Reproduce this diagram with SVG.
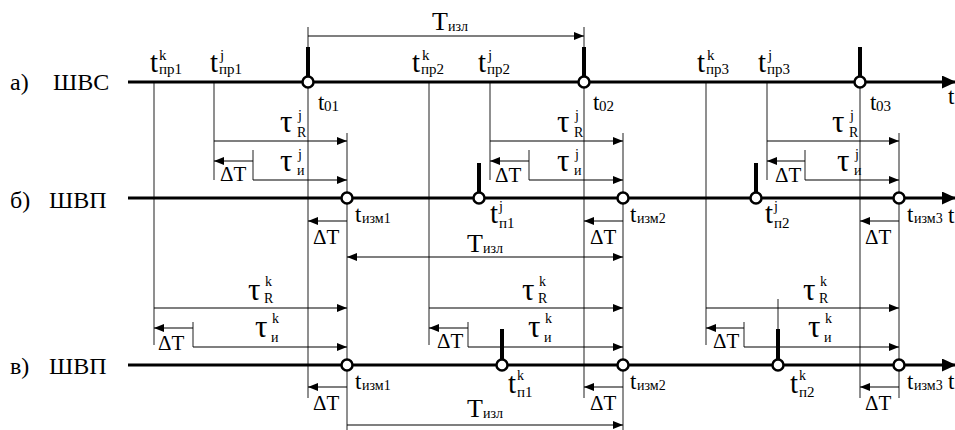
<svg xmlns="http://www.w3.org/2000/svg" width="955" height="430" viewBox="0 0 955 430" font-family="Liberation Serif">
<style>
text{font-family:"Liberation Serif",serif;fill:#000}
.ax{stroke:#000;stroke-width:3;fill:none}
.th{stroke:#333;stroke-width:1.1;fill:none}
.tk{stroke:#000;stroke-width:4;fill:none}
.ar{stroke:#000;stroke-width:1.1;fill:none;marker-end:url(#a)}
.ar2{stroke:#000;stroke-width:1.1;fill:none;marker-end:url(#a);marker-start:url(#b)}
.cir{fill:#fff;stroke:#000;stroke-width:2.5}
.lb{font-size:24px}
.tb{font-size:29px}
.tm{font-size:23px}
.sb{font-size:15px}
.ss{font-size:14px}
.bT{font-size:26px}
.dT{font-size:21px}
.tau{font-size:31px}
</style>
<defs>
<marker id="a" markerUnits="userSpaceOnUse" markerWidth="10" markerHeight="8" refX="10" refY="4" orient="auto" viewBox="0 0 10 8"><path d="M0,0 L10,4 L0,8 z" fill="#000"/></marker>
<marker id="b" markerUnits="userSpaceOnUse" markerWidth="10" markerHeight="8" refX="0" refY="4" orient="auto" viewBox="0 0 10 8"><path d="M10,0 L0,4 L10,8 z" fill="#000"/></marker>
<marker id="A" markerUnits="userSpaceOnUse" markerWidth="14" markerHeight="13" refX="14" refY="6.5" orient="auto" viewBox="0 0 14 13"><path d="M0,0 L14,6.5 L0,13 z" fill="#000"/></marker>
</defs>

<g id="connectors">
<line class="th" x1="154" y1="82" x2="154" y2="345"/>
<line class="th" x1="429" y1="82" x2="429" y2="345"/>
<line class="th" x1="706" y1="82" x2="706" y2="345"/>
<line class="th" x1="214" y1="82" x2="214" y2="180"/>
<line class="th" x1="490" y1="82" x2="490" y2="180"/>
<line class="th" x1="767" y1="82" x2="767" y2="180"/>
<line class="th" x1="308" y1="27" x2="308" y2="398"/>
<line class="th" x1="584" y1="27" x2="584" y2="398"/>
<line class="th" x1="860" y1="82" x2="860" y2="398"/>
<line class="th" x1="347" y1="133" x2="347" y2="430"/>
<line class="th" x1="623" y1="133" x2="623" y2="430"/>
<line class="th" x1="899" y1="133" x2="899" y2="398"/>
<line class="th" x1="778" y1="299" x2="778" y2="330"/>
<line class="ar" x1="308" y1="36" x2="584" y2="36"/>
<line class="ar" x1="214" y1="141" x2="347" y2="141"/>
<line class="th" x1="253" y1="150" x2="253" y2="180"/>
<line class="ar" x1="253" y1="161" x2="214" y2="161"/>
<line class="ar" x1="253" y1="180" x2="347" y2="180"/>
<line class="ar" x1="490" y1="141" x2="623" y2="141"/>
<line class="th" x1="529" y1="150" x2="529" y2="180"/>
<line class="ar" x1="529" y1="161" x2="490" y2="161"/>
<line class="ar" x1="529" y1="180" x2="623" y2="180"/>
<line class="ar" x1="767" y1="141" x2="899" y2="141"/>
<line class="th" x1="805" y1="150" x2="805" y2="180"/>
<line class="ar" x1="805" y1="161" x2="767" y2="161"/>
<line class="ar" x1="805" y1="180" x2="899" y2="180"/>
<line class="ar" x1="347" y1="221" x2="308" y2="221"/>
<line class="ar" x1="623" y1="221" x2="584" y2="221"/>
<line class="ar" x1="899" y1="221" x2="860" y2="221"/>
<line class="ar2" x1="347" y1="257" x2="623" y2="257"/>
<line class="ar" x1="154" y1="308" x2="347" y2="308"/>
<line class="th" x1="193" y1="322" x2="193" y2="347"/>
<line class="ar" x1="193" y1="328" x2="154" y2="328"/>
<line class="ar" x1="193" y1="347" x2="347" y2="347"/>
<line class="ar" x1="429" y1="308" x2="623" y2="308"/>
<line class="th" x1="468" y1="322" x2="468" y2="347"/>
<line class="ar" x1="468" y1="328" x2="429" y2="328"/>
<line class="ar" x1="468" y1="347" x2="623" y2="347"/>
<line class="ar" x1="706" y1="308" x2="899" y2="308"/>
<line class="th" x1="744" y1="322" x2="744" y2="347"/>
<line class="ar" x1="744" y1="328" x2="706" y2="328"/>
<line class="ar" x1="744" y1="347" x2="899" y2="347"/>
<line class="ar" x1="347" y1="387" x2="308" y2="387"/>
<line class="ar" x1="623" y1="387" x2="584" y2="387"/>
<line class="ar" x1="899" y1="387" x2="860" y2="387"/>
<line class="ar" x1="347" y1="425" x2="623" y2="425"/>
<line class="tk" x1="308" y1="47" x2="308" y2="82"/>
<line class="tk" x1="584" y1="47" x2="584" y2="82"/>
<line class="tk" x1="860" y1="47" x2="860" y2="82"/>
<line class="tk" x1="479" y1="163" x2="479" y2="198"/>
<line class="tk" x1="756" y1="163" x2="756" y2="198"/>
<line class="tk" x1="502" y1="329" x2="502" y2="365"/>
<line class="tk" x1="778" y1="329" x2="778" y2="365"/>
</g>

<g id="axis-a">
<line class="ax" x1="128" y1="82" x2="956" y2="82" marker-end="url(#A)"/>
<text class="lb" x="10" y="90">а)</text>
<text class="lb" x="53" y="90">ШВС</text>
<text class="tm" x="948" y="104">t</text>
</g>
<g id="axis-b">
<line class="ax" x1="128" y1="198" x2="956" y2="198" marker-end="url(#A)"/>
<text class="lb" x="10" y="208">б)</text>
<text class="lb" x="49" y="208">ШВП</text>
<text class="tm" x="948" y="223">t</text>
</g>
<g id="axis-c">
<line class="ax" x1="128" y1="365" x2="956" y2="365" marker-end="url(#A)"/>
<text class="lb" x="10" y="374">в)</text>
<text class="lb" x="49" y="374">ШВП</text>
<text class="tm" x="948" y="389">t</text>
</g>

<g id="events">
<circle class="cir" cx="308" cy="82" r="5.5"/>
<circle class="cir" cx="584" cy="82" r="5.5"/>
<circle class="cir" cx="860" cy="82" r="5.5"/>
<circle class="cir" cx="347" cy="198" r="5.5"/>
<circle class="cir" cx="623" cy="198" r="5.5"/>
<circle class="cir" cx="899" cy="198" r="5.5"/>
<circle class="cir" cx="479" cy="198" r="5.5"/>
<circle class="cir" cx="756" cy="198" r="5.5"/>
<circle class="cir" cx="347" cy="365" r="5.5"/>
<circle class="cir" cx="623" cy="365" r="5.5"/>
<circle class="cir" cx="899" cy="365" r="5.5"/>
<circle class="cir" cx="502" cy="365" r="5.5"/>
<circle class="cir" cx="778" cy="365" r="5.5"/>
</g>

<g id="labels-a">
<text class="tb" x="150" y="72">t<tspan class="sb" x="159" y="60">k</tspan><tspan class="sb" x="159" y="74">пр1</tspan></text>
<text class="tb" x="210" y="72">t<tspan class="sb" x="220" y="60">j</tspan><tspan class="sb" x="219" y="74">пр1</tspan></text>
<text class="tb" x="412" y="72">t<tspan class="sb" x="422" y="60">k</tspan><tspan class="sb" x="421" y="74">пр2</tspan></text>
<text class="tb" x="478" y="72">t<tspan class="sb" x="488" y="60">j</tspan><tspan class="sb" x="487" y="74">пр2</tspan></text>
<text class="tb" x="697" y="72">t<tspan class="sb" x="707" y="60">k</tspan><tspan class="sb" x="706" y="74">пр3</tspan></text>
<text class="tb" x="758" y="72">t<tspan class="sb" x="768" y="60">j</tspan><tspan class="sb" x="767" y="74">пр3</tspan></text>
<text class="tm" x="318" y="110">t<tspan class="sb" x="324" y="111">01</tspan></text>
<text class="tm" x="593" y="110">t<tspan class="sb" x="599" y="111">02</tspan></text>
<text class="tm" x="870" y="110">t<tspan class="sb" x="876" y="111">03</tspan></text>
<text class="bT" x="432" y="30">T<tspan class="ss" x="448" y="31">изл</tspan></text>
</g>

<g id="labels-j">
<text class="tau" x="280" y="132">τ<tspan class="ss" x="298" y="120">j</tspan><tspan class="ss" x="297" y="137">R</tspan></text>
<text class="tau" x="557" y="132">τ<tspan class="ss" x="575" y="120">j</tspan><tspan class="ss" x="574" y="137">R</tspan></text>
<text class="tau" x="832" y="132">τ<tspan class="ss" x="850" y="120">j</tspan><tspan class="ss" x="849" y="137">R</tspan></text>
<text class="tau" x="280" y="171">τ<tspan class="ss" x="298" y="159">j</tspan><tspan class="ss" x="297" y="175">и</tspan></text>
<text class="tau" x="557" y="171">τ<tspan class="ss" x="575" y="159">j</tspan><tspan class="ss" x="574" y="175">и</tspan></text>
<text class="tau" x="837" y="171">τ<tspan class="ss" x="855" y="159">j</tspan><tspan class="ss" x="854" y="175">и</tspan></text>
<text class="dT" x="220" y="181">ΔT</text>
<text class="dT" x="495" y="182">ΔT</text>
<text class="dT" x="775" y="182">ΔT</text>
</g>

<g id="labels-b">
<text class="tm" x="355" y="222">t<tspan class="ss" x="362" y="223">изм1</tspan></text>
<text class="tm" x="630" y="222">t<tspan class="ss" x="637" y="223">изм2</tspan></text>
<text class="tm" x="907" y="222">t<tspan class="ss" x="914" y="223">изм3</tspan></text>
<text class="tb" x="490" y="223">t<tspan class="ss" x="499" y="211">j</tspan><tspan class="sb" x="499" y="228">п1</tspan></text>
<text class="tb" x="765" y="223">t<tspan class="ss" x="774" y="211">j</tspan><tspan class="sb" x="774" y="228">п2</tspan></text>
<text class="dT" x="313" y="244">ΔT</text>
<text class="dT" x="590" y="244">ΔT</text>
<text class="dT" x="865" y="244">ΔT</text>
<text class="bT" x="467" y="252">T<tspan class="ss" x="483" y="253">изл</tspan></text>
</g>

<g id="labels-k">
<text class="tau" x="248" y="300">τ<tspan class="ss" x="265" y="286">k</tspan><tspan class="ss" x="264" y="303">R</tspan></text>
<text class="tau" x="522" y="300">τ<tspan class="ss" x="539" y="286">k</tspan><tspan class="ss" x="538" y="303">R</tspan></text>
<text class="tau" x="803" y="300">τ<tspan class="ss" x="820" y="286">k</tspan><tspan class="ss" x="819" y="303">R</tspan></text>
<text class="tau" x="255" y="337">τ<tspan class="ss" x="272" y="323">k</tspan><tspan class="ss" x="271" y="342">и</tspan></text>
<text class="tau" x="528" y="337">τ<tspan class="ss" x="545" y="323">k</tspan><tspan class="ss" x="544" y="342">и</tspan></text>
<text class="tau" x="808" y="337">τ<tspan class="ss" x="825" y="323">k</tspan><tspan class="ss" x="824" y="342">и</tspan></text>
<text class="dT" x="158" y="350">ΔT</text>
<text class="dT" x="437" y="348">ΔT</text>
<text class="dT" x="713" y="348">ΔT</text>
</g>

<g id="labels-c">
<text class="tm" x="355" y="389">t<tspan class="ss" x="362" y="390">изм1</tspan></text>
<text class="tm" x="630" y="389">t<tspan class="ss" x="637" y="390">изм2</tspan></text>
<text class="tm" x="907" y="389">t<tspan class="ss" x="914" y="390">изм3</tspan></text>
<text class="tb" x="508" y="393">t<tspan class="ss" x="517" y="380">k</tspan><tspan class="sb" x="517" y="397">п1</tspan></text>
<text class="tb" x="790" y="393">t<tspan class="ss" x="799" y="380">k</tspan><tspan class="sb" x="799" y="397">п2</tspan></text>
<text class="dT" x="313" y="410">ΔT</text>
<text class="dT" x="590" y="410">ΔT</text>
<text class="dT" x="865" y="410">ΔT</text>
<text class="bT" x="467" y="417">T<tspan class="ss" x="483" y="418">изл</tspan></text>
</g>
</svg>
